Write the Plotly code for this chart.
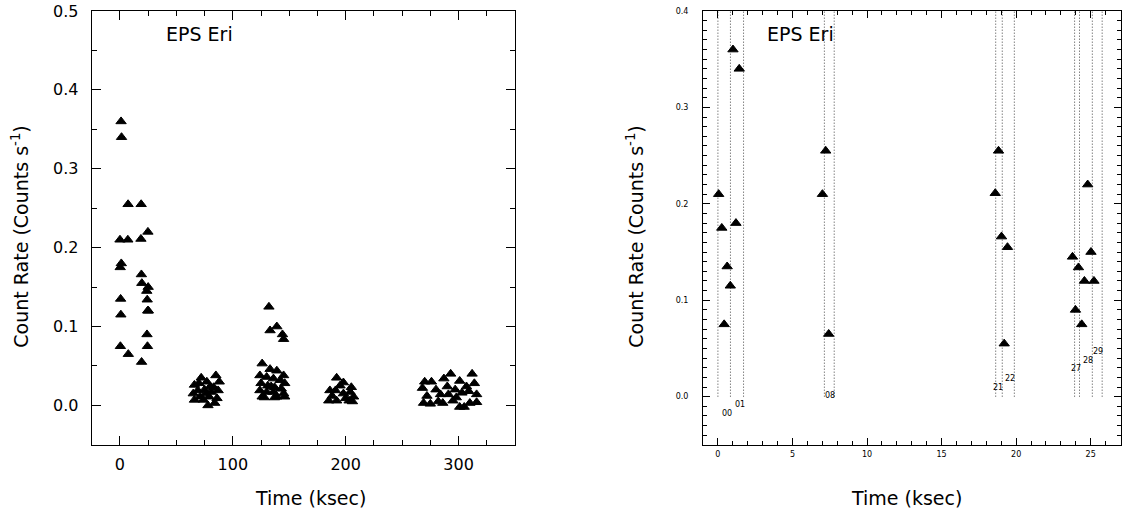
import plotly.graph_objects as go

# ---------------- data ----------------
# first 27 ksec (shown in both panels)
t_early = [0.05, 0.26, 0.42, 0.62, 0.83, 1.01, 1.21, 1.43,
           7.01, 7.23, 7.43,
           18.60, 18.82, 19.02, 19.20, 19.42,
           23.78, 23.98, 24.18, 24.40, 24.58, 24.80, 25.02, 25.22]
r_early = [0.210, 0.175, 0.075, 0.135, 0.115, 0.360, 0.180, 0.340,
           0.210, 0.255, 0.065,
           0.211, 0.255, 0.166, 0.055, 0.155,
           0.145, 0.090, 0.134, 0.075, 0.120, 0.220, 0.150, 0.120]

# later observation blocks (left panel only)
t_late = [66, 65, 66, 69, 71, 72, 74, 75, 77, 78, 79, 80, 81, 83, 84, 85, 86, 87, 88, 76, 70,
          132, 139, 133, 144, 145,
          126, 133, 139, 145, 124, 130, 136, 142, 146, 125, 131, 137, 143, 124, 130, 136, 145,
          126, 139, 146, 137, 128, 134,
          185, 186, 188, 192, 191, 192, 195, 198, 198, 200, 203, 204, 205, 207, 206,
          270, 276, 287, 293, 301, 312, 307, 268, 272, 280, 284, 290, 291, 297, 298, 303,
          309, 314, 316, 269, 275, 282, 286, 295, 301, 305, 310, 316]
r_late = [0.026, 0.015, 0.007, 0.019, 0.011, 0.035, 0.007, 0.020, 0.030, 0.000, 0.011,
          0.024, 0.017, 0.023, 0.003, 0.038, 0.009, 0.019, 0.030, 0.015, 0.028,
          0.125, 0.100, 0.095, 0.090, 0.084,
          0.053, 0.046, 0.044, 0.038, 0.038, 0.036, 0.034, 0.032, 0.028, 0.028, 0.025,
          0.023, 0.021, 0.019, 0.017, 0.017, 0.015, 0.011, 0.011, 0.011, 0.010, 0.010, 0.024,
          0.006, 0.019, 0.012, 0.035, 0.019, 0.006, 0.025, 0.029, 0.015, 0.009, 0.006,
          0.017, 0.023, 0.011, 0.005,
          0.030, 0.030, 0.034, 0.040, 0.031, 0.040, 0.024, 0.022, 0.012, 0.020, 0.014,
          0.024, 0.014, 0.020, 0.010, 0.016, 0.018, 0.028, 0.014, 0.003, 0.002, 0.005,
          0.003, 0.006, -0.002, -0.002, 0.003, 0.004]

# segment boundaries (dotted lines) and segment labels in right panel
seg_bounds = [0.0, 0.84, 1.72, 7.14, 7.80, 18.63, 19.07, 19.88,
              23.92, 24.25, 25.11, 25.77]
seg_names = ["00", "01", "08", "21", "22", "27", "28", "29"]
seg_label_t = [0.64, 1.47, 7.54, 18.78, 19.62, 24.03, 24.80, 25.50]
seg_label_r = [-0.017, -0.008, 0.001, 0.010, 0.019, 0.029, 0.038, 0.047]

left_xticks = [0, 100, 200, 300]
right_xticks = [0, 5, 10, 15, 20, 25]
left_yticks = [0.0, 0.1, 0.2, 0.3, 0.4, 0.5]
right_yticks = [0.0, 0.1, 0.2, 0.3, 0.4]

# ---------------- figure ----------------
FONT = "DejaVu Sans"
W, H = 1129, 516
fig = go.Figure()

marker = dict(symbol="triangle-up", size=9, color="black",
              line=dict(color="black", width=1))

fig.add_trace(go.Scatter(x=t_early + t_late, y=r_early + r_late, mode="markers",
                         marker=marker, xaxis="x", yaxis="y", showlegend=False))
fig.add_trace(go.Scatter(x=t_early, y=r_early, mode="markers",
                         marker=marker, xaxis="x2", yaxis="y2", showlegend=False))

# dotted segment boundary lines
for tb in seg_bounds:
    fig.add_shape(type="line", xref="x2", yref="y2", x0=tb, x1=tb, y0=0.0, y1=0.4,
                  line=dict(color="#444", width=1, dash="1px,2px"), layer="below")

for name, tx, ry in zip(seg_names, seg_label_t, seg_label_r):
    fig.add_annotation(x=tx, y=ry, xref="x2", yref="y2", text=name, showarrow=False,
                       xanchor="center", yanchor="middle",
                       font=dict(family=FONT, size=8, color="black"))


def px2x(p):
    return p / W


def px2y(p):
    # vertical placement corrected for the page's top offset as photographed
    q = (p - 8.0) / 0.984
    return 1 - q / H


ydom = [px2y(444.5), px2y(10)]
axis_common = dict(showline=True, linecolor="black", linewidth=1, mirror="allticks",
                   ticks="inside", tickcolor="black", showgrid=False, zeroline=False,
                   ticklabeloverflow="allow")

fig.update_layout(
    width=W, height=H, margin=dict(l=0, r=0, t=0, b=0),
    paper_bgcolor="white", plot_bgcolor="white",
    xaxis=dict(domain=[px2x(91.7), px2x(515)], range=[-25, 350], tickvals=left_xticks,
               ticklen=9, tickwidth=1, anchor="y",
               minor=dict(dtick=25, tick0=0, ticklen=5, tickcolor="black", ticks="inside"),
               tickfont=dict(family=FONT, size=16, color="black"), ticklabelstandoff=5,
               **axis_common),
    yaxis=dict(domain=ydom, range=[-0.05, 0.5], tickvals=left_yticks, tickformat=".1f",
               ticklen=9, tickwidth=1, anchor="x",
               minor=dict(dtick=0.05, tick0=0, ticklen=5, tickcolor="black", ticks="inside"),
               tickfont=dict(family=FONT, size=16, color="black"), ticklabelstandoff=9,
               **axis_common),
    xaxis2=dict(domain=[px2x(703), px2x(1120.5)], range=[-1, 27], tickvals=right_xticks,
                ticklen=7, tickwidth=1, anchor="y2",
                minor=dict(dtick=1, tick0=0, ticklen=4, tickcolor="black", ticks="inside"),
                tickfont=dict(family=FONT, size=8, color="black"), ticklabelstandoff=2,
                **axis_common),
    yaxis2=dict(domain=ydom, range=[-0.05, 0.4], tickvals=right_yticks, tickformat=".1f",
                ticklen=7, tickwidth=1, anchor="x2",
                minor=dict(dtick=0.01, tick0=0, ticklen=4, tickcolor="black", ticks="inside"),
                tickfont=dict(family=FONT, size=8, color="black"), ticklabelstandoff=12,
                **axis_common),
)

title_font = dict(family=FONT, size=19, color="black")
texts = [
    (20, 236, "Count Rate (Counts s<sup>-1</sup>)", -90),
    (635, 236, "Count Rate (Counts s<sup>-1</sup>)", -90),
    (310, 498, "Time (ksec)", 0),
    (906, 498, "Time (ksec)", 0),
    (199, 33, "EPS Eri", 0),
    (800, 33, "EPS Eri", 0),
]
for xp, yp, txt, ang in texts:
    fig.add_annotation(x=px2x(xp), y=px2y(yp), xref="paper", yref="paper",
                       text=txt, textangle=ang, showarrow=False,
                       xanchor="center", yanchor="middle", font=title_font)

# pin the plot to the page corner and let edge texts spill instead of being clipped
pin_js = ("document.documentElement.style.margin='0px';"
          "document.body.style.margin='0px';"
          "var gd=document.getElementById('{plot_id}');"
          "gd.style.position='fixed';gd.style.left='0px';gd.style.top='0px';"
          "gd.querySelectorAll('svg').forEach(function(s){s.style.overflow='visible';});")

fig.write_html("out.html", config={"displayModeBar": False}, post_script=pin_js)
